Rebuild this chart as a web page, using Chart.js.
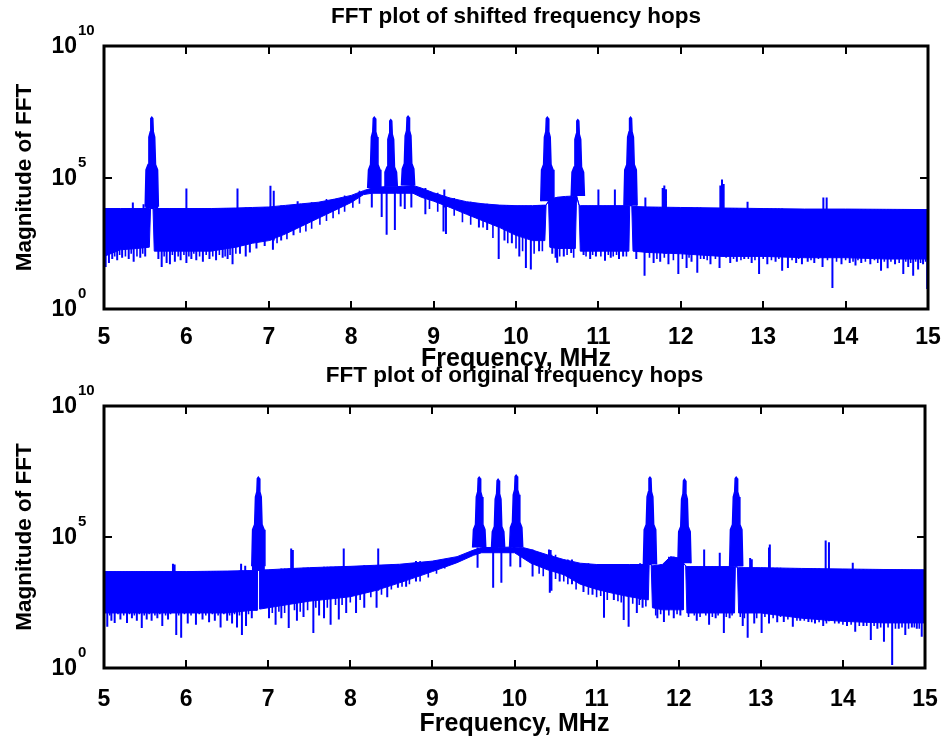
<!DOCTYPE html>
<html lang="en">
<head>
<meta charset="UTF-8" />
<title>FFT plots of frequency hops</title>
<script src="https://cdn.jsdelivr.net/npm/chart.js"></script>
<style>
  html, body { margin: 0; padding: 0; background: #fff; }
  body { width: 948px; height: 740px; position: relative; overflow: hidden; }
  .plot { position: absolute; left: 0; width: 948px; }
  #shifted { top: 0; height: 375px; }
  #original { top: 360px; height: 380px; }
</style>
</head>
<body>
<div class="plot" id="shifted"><canvas id="shiftedChart"></canvas></div>
<div class="plot" id="original"><canvas id="originalChart"></canvas></div>
<script>
// all magnitudes below are log10 of |FFT|, frequencies in MHz
const freqTicks = [5, 6, 7, 8, 9, 10, 11, 12, 13, 14, 15];
const magTicks = [0, 5, 10];

// ---- shifted hops ----
// noise floor band: upper and lower edge
const shiftBandF  = [5.00, 5.20, 5.40, 5.55, 5.565, 5.595, 5.61, 5.80, 6.00, 6.30, 6.60, 6.80, 7.00, 7.20, 7.40, 7.60, 7.80, 8.00, 8.15, 8.25, 8.40, 8.55, 8.75, 8.85, 9.00, 9.20, 9.40, 9.60, 9.80, 10.00, 10.20, 10.35, 10.365, 10.395, 10.41, 10.50, 10.60, 10.72, 10.735, 10.765, 10.78, 11.00, 11.20, 11.37, 11.38, 11.405, 11.42, 11.60, 12.00, 12.50, 13.00, 13.50, 14.00, 14.50, 15.00];
const shiftBandHi = [3.82, 3.82, 3.82, 3.82, 3.82, 3.82, 3.82, 3.82, 3.82, 3.82, 3.84, 3.86, 3.88, 3.94, 4.00, 4.06, 4.18, 4.32, 4.50, 4.60, 4.65, 4.65, 4.70, 4.60, 4.42, 4.22, 4.08, 4.00, 3.95, 3.93, 3.93, 3.95, 3.95, 4.10, 4.15, 4.25, 4.28, 4.30, 4.30, 3.95, 3.93, 3.93, 3.93, 3.93, 3.93, 3.93, 3.90, 3.88, 3.86, 3.84, 3.82, 3.80, 3.80, 3.79, 3.78];
const shiftBandLo = [2.00, 2.25, 2.30, 2.35, 3.82, 3.82, 2.20, 2.20, 2.20, 2.20, 2.35, 2.50, 2.60, 2.85, 3.15, 3.45, 3.75, 4.05, 4.35, 4.40, 4.40, 4.40, 4.40, 4.25, 4.10, 3.86, 3.60, 3.35, 3.10, 2.80, 2.60, 2.60, 3.95, 4.10, 2.35, 2.30, 2.30, 2.30, 4.30, 3.95, 2.20, 2.20, 2.20, 2.20, 3.93, 3.93, 2.20, 2.15, 2.10, 2.00, 2.00, 1.95, 1.95, 1.90, 1.90];
// long downward spikes
const shiftDipF = [5.00, 5.02, 5.06, 5.10, 5.16, 5.22, 5.30, 5.36, 5.44, 5.50, 5.66, 5.70, 5.76, 5.80, 5.86, 5.93, 6.00, 6.06, 6.12, 6.20, 6.28, 6.36, 6.44, 6.50, 6.56, 6.65, 6.72, 6.77, 6.85, 6.95, 7.05, 7.15, 7.30, 8.25, 8.37, 8.43, 8.53, 8.60, 8.65, 8.73, 8.90, 9.12, 9.15, 9.55, 9.65, 9.79, 9.86, 9.95, 10.04, 10.12, 10.18, 10.28, 10.44, 10.48, 10.50, 10.58, 10.67, 10.82, 10.90, 10.97, 11.08, 11.15, 11.25, 11.30, 11.46, 11.56, 11.67, 11.75, 11.85, 11.97, 12.07, 12.13, 12.20, 12.28, 12.36, 12.47, 12.60, 12.68, 12.77, 12.86, 12.95, 13.05, 13.15, 13.23, 13.30, 13.40, 13.47, 13.54, 13.62, 13.72, 13.84, 13.95, 14.05, 14.12, 14.19, 14.30, 14.43, 14.51, 14.60, 14.70, 14.76, 14.82, 14.88, 14.94, 14.99];
const shiftDipV = [1.20, 1.60, 1.75, 1.90, 1.85, 1.95, 1.90, 1.80, 1.95, 2.00, 1.90, 1.60, 1.75, 1.70, 1.80, 1.85, 1.75, 1.90, 1.85, 1.80, 1.90, 1.85, 1.95, 1.90, 1.70, 2.10, 2.00, 2.15, 2.30, 2.40, 2.25, 2.60, 2.80, 3.86, 3.50, 2.82, 3.00, 3.90, 3.80, 3.86, 3.60, 2.95, 2.85, 3.10, 3.00, 1.90, 2.60, 2.50, 2.00, 1.56, 1.50, 2.20, 2.10, 1.95, 1.76, 2.00, 2.13, 2.05, 1.90, 2.00, 1.83, 1.95, 1.90, 2.00, 1.90, 1.26, 1.75, 1.80, 1.70, 1.33, 1.56, 1.80, 1.38, 1.90, 1.70, 1.56, 1.75, 1.80, 1.90, 1.75, 1.33, 1.70, 1.80, 1.45, 1.56, 1.75, 1.70, 1.80, 1.75, 1.60, 0.80, 1.70, 1.75, 1.65, 1.75, 1.70, 1.45, 1.55, 1.70, 1.33, 1.60, 1.26, 1.50, 1.70, 0.76];
// short teeth along the lower edge of the floor
const shiftCombF = [5.04, 5.13, 5.19, 5.26, 5.33, 5.40, 5.47, 5.73, 5.83, 5.90, 5.97, 6.03, 6.09, 6.16, 6.24, 6.32, 6.40, 6.47, 6.53, 6.60, 7.10, 7.22, 7.38, 7.45, 7.52, 7.62, 7.70, 7.78, 7.85, 7.92, 8.02, 8.10, 8.95, 9.05, 9.25, 9.35, 9.45, 9.60, 9.72, 9.90, 10.00, 10.08, 10.22, 10.32, 10.53, 10.62, 10.70, 10.85, 10.93, 11.03, 11.12, 11.18, 11.22, 11.34, 11.62, 11.71, 11.80, 11.91, 12.02, 12.10, 12.24, 12.32, 12.42, 12.55, 12.64, 12.73, 12.82, 12.90, 13.00, 13.10, 13.19, 13.35, 13.43, 13.58, 13.67, 13.78, 13.89, 14.00, 14.09, 14.15, 14.24, 14.35, 14.39, 14.47, 14.55, 14.65, 14.73, 14.79, 14.85, 14.91, 14.97];
const shiftCombV = [2.05, 2.00, 2.05, 2.00, 2.10, 2.00, 2.10, 2.00, 2.05, 2.00, 2.05, 2.00, 2.10, 2.00, 2.05, 2.00, 2.05, 2.00, 2.05, 2.10, 2.50, 2.65, 2.90, 2.95, 3.05, 3.20, 3.35, 3.45, 3.60, 3.70, 3.85, 4.00, 3.80, 3.70, 3.55, 3.30, 3.20, 3.10, 2.70, 2.50, 2.30, 2.20, 2.10, 2.20, 2.00, 2.05, 1.95, 2.00, 2.05, 2.00, 2.05, 2.00, 2.05, 2.00, 1.95, 1.90, 1.95, 1.85, 1.90, 1.95, 1.90, 1.85, 1.90, 1.95, 1.90, 1.85, 1.90, 1.85, 1.90, 1.85, 1.90, 1.85, 1.90, 1.85, 1.90, 1.85, 1.80, 1.85, 1.80, 1.85, 1.80, 1.85, 1.75, 1.80, 1.80, 1.75, 1.80, 1.75, 1.80, 1.75, 1.80];
// small upward spurs
const shiftSpurF = [5.35, 5.48, 6.00, 6.62, 7.02, 7.06, 7.35, 9.13, 11.00, 11.20, 11.57, 11.78, 11.80, 11.82, 12.48, 12.50, 12.52, 12.81, 13.73, 13.77];
const shiftSpurV = [4.05, 3.98, 4.58, 4.58, 4.69, 4.50, 4.10, 4.54, 4.54, 4.54, 4.24, 4.60, 4.70, 4.55, 4.70, 4.92, 4.75, 4.08, 4.24, 4.24];
// hop carriers
const shiftPeakF = [5.58, 8.28, 8.48, 8.69, 10.38, 10.75, 11.39];
const shiftPeakV = [7.29, 7.29, 7.20, 7.33, 7.29, 7.20, 7.29];

// ---- original hops ----
const origBandF  = [5.00, 5.50, 6.00, 6.50, 6.80, 6.865, 6.87, 6.895, 6.90, 7.00, 7.30, 7.50, 7.80, 8.00, 8.30, 8.60, 9.00, 9.30, 9.50, 9.60, 9.80, 10.00, 10.10, 10.20, 10.40, 10.60, 10.80, 11.00, 11.20, 11.40, 11.63, 11.64, 11.665, 11.68, 11.80, 11.90, 12.00, 12.055, 12.06, 12.085, 12.10, 12.30, 12.68, 12.69, 12.715, 12.73, 13.00, 13.50, 14.00, 14.50, 15.00];
const origBandHi = [3.68, 3.68, 3.68, 3.70, 3.72, 3.72, 3.72, 3.74, 3.74, 3.75, 3.80, 3.83, 3.86, 3.88, 3.92, 3.96, 4.08, 4.25, 4.50, 4.60, 4.60, 4.62, 4.60, 4.52, 4.32, 4.14, 4.00, 3.95, 3.95, 3.95, 3.95, 3.95, 3.95, 3.90, 3.95, 4.25, 4.20, 4.00, 4.00, 3.90, 3.87, 3.87, 3.87, 3.87, 3.85, 3.83, 3.83, 3.80, 3.78, 3.76, 3.75];
const origBandLo = [2.10, 2.10, 2.10, 2.10, 2.20, 2.20, 3.72, 3.74, 2.25, 2.30, 2.45, 2.55, 2.65, 2.72, 2.95, 3.25, 3.68, 4.02, 4.30, 4.40, 4.40, 4.40, 4.20, 4.00, 3.75, 3.56, 3.20, 3.00, 2.85, 2.72, 2.60, 3.95, 3.95, 2.30, 2.22, 2.22, 2.22, 2.22, 4.00, 3.90, 2.10, 2.10, 2.10, 3.87, 3.85, 2.10, 2.10, 1.90, 1.78, 1.72, 1.72];
const origDipF = [5.00, 5.04, 5.09, 5.13, 5.20, 5.28, 5.34, 5.40, 5.46, 5.52, 5.58, 5.65, 5.71, 5.78, 5.88, 5.94, 6.02, 6.12, 6.20, 6.28, 6.35, 6.42, 6.50, 6.56, 6.62, 6.68, 6.73, 6.80, 7.01, 7.09, 7.16, 7.25, 7.35, 7.43, 7.55, 7.62, 7.68, 7.76, 7.86, 7.95, 8.07, 8.17, 8.32, 8.45, 8.58, 8.68, 8.80, 9.55, 9.74, 9.84, 9.95, 10.07, 10.22, 10.43, 10.45, 10.55, 10.70, 10.84, 10.95, 11.09, 11.21, 11.33, 11.39, 11.49, 11.56, 11.74, 11.82, 11.94, 12.02, 12.16, 12.22, 12.37, 12.45, 12.55, 12.62, 12.78, 12.84, 12.92, 13.01, 13.10, 13.20, 13.28, 13.39, 13.48, 13.58, 13.66, 13.76, 13.85, 13.95, 14.05, 14.15, 14.25, 14.34, 14.42, 14.50, 14.60, 14.68, 14.76, 14.84, 14.90, 14.96];
const origDipV = [1.60, 1.57, 1.80, 1.72, 1.85, 1.72, 1.90, 1.80, 1.53, 1.85, 1.80, 1.90, 1.60, 1.85, 1.26, 1.15, 1.70, 1.65, 1.85, 1.75, 1.80, 1.55, 1.80, 1.70, 1.55, 1.26, 1.60, 1.90, 1.90, 1.65, 1.90, 1.53, 1.80, 1.95, 1.34, 2.00, 1.90, 1.65, 1.85, 2.10, 2.10, 2.30, 2.30, 2.70, 3.06, 3.10, 3.30, 3.83, 3.06, 3.25, 3.87, 3.85, 3.49, 2.87, 2.95, 3.30, 3.20, 2.90, 2.80, 1.92, 2.60, 1.83, 1.57, 2.10, 2.30, 1.90, 1.76, 1.90, 2.00, 2.10, 1.80, 1.65, 1.90, 1.34, 1.90, 1.60, 1.15, 1.70, 1.34, 1.70, 1.75, 1.76, 1.57, 1.80, 1.76, 1.70, 1.60, 1.95, 1.70, 1.60, 1.38, 1.60, 1.07, 1.50, 1.00, 0.11, 1.50, 1.26, 1.55, 1.50, 1.19];
const origCombF = [5.07, 5.17, 5.24, 5.31, 5.37, 5.43, 5.49, 5.55, 5.62, 5.68, 5.75, 5.81, 5.91, 5.98, 6.06, 6.16, 6.24, 6.32, 6.39, 6.46, 6.53, 6.59, 6.65, 6.76, 7.05, 7.13, 7.20, 7.32, 7.39, 7.48, 7.58, 7.72, 7.82, 7.90, 8.00, 8.12, 8.25, 8.38, 8.50, 8.63, 8.72, 8.85, 8.95, 9.05, 9.15, 10.30, 10.35, 10.50, 10.60, 10.65, 10.75, 10.90, 11.00, 11.05, 11.13, 11.26, 11.30, 11.44, 11.52, 11.60, 11.72, 11.78, 11.88, 11.98, 12.12, 12.19, 12.26, 12.33, 12.41, 12.48, 12.58, 12.65, 12.75, 12.80, 12.95, 13.05, 13.15, 13.24, 13.33, 13.44, 13.53, 13.62, 13.71, 13.80, 13.90, 14.00, 14.10, 14.20, 14.29, 14.38, 14.46, 14.55, 14.64, 14.72, 14.80, 14.87, 14.93];
const origCombV = [2.00, 2.05, 2.00, 2.05, 2.00, 2.05, 2.00, 2.05, 2.00, 2.05, 2.00, 2.05, 2.00, 2.05, 2.00, 2.05, 2.00, 2.05, 2.00, 2.05, 2.00, 2.05, 2.00, 2.05, 2.10, 2.15, 2.10, 2.20, 2.15, 2.20, 2.30, 2.30, 2.40, 2.40, 2.50, 2.60, 2.70, 2.80, 3.00, 3.10, 3.20, 3.30, 3.45, 3.60, 3.80, 3.60, 3.50, 3.40, 3.30, 3.20, 3.00, 2.80, 2.70, 2.75, 2.60, 2.55, 2.50, 2.45, 2.40, 2.35, 2.00, 2.05, 2.00, 2.05, 1.95, 2.00, 1.95, 2.00, 1.95, 2.00, 1.95, 2.00, 1.95, 1.90, 1.90, 1.95, 1.90, 1.95, 1.85, 1.80, 1.80, 1.75, 1.75, 1.70, 1.70, 1.65, 1.65, 1.60, 1.60, 1.60, 1.55, 1.55, 1.50, 1.55, 1.50, 1.55, 1.50];
const origSpurF = [5.84, 5.86, 6.67, 6.72, 7.28, 7.30, 7.92, 8.34, 10.42, 10.44, 11.53, 12.31, 12.50, 12.87, 12.89, 13.10, 13.11, 13.79, 13.83, 14.12, 15.00];
const origSpurV = [3.98, 3.95, 3.98, 3.90, 4.56, 4.50, 4.56, 4.56, 4.52, 4.50, 4.00, 4.52, 4.40, 4.20, 4.15, 4.60, 4.71, 4.87, 4.80, 4.02, 4.25];
const origPeakF = [6.88, 9.57, 9.80, 10.02, 11.65, 12.07, 12.70];
const origPeakV = [7.28, 7.28, 7.20, 7.36, 7.28, 7.20, 7.28];

const BLUE = '#0000ff';
const FONT = '"Liberation Sans", Arial, Helvetica, sans-serif';
// carrier outline: offset in MHz, drop in decades below the top
const PEAK_SHAPE = [[-0.08, 3.4], [-0.07, 2.0], [-0.045, 1.8], [-0.035, 0.75], [-0.018, 0.55], [-0.012, 0.05], [0, 0], [0.012, 0.05], [0.018, 0.55], [0.035, 0.75], [0.045, 1.8], [0.07, 2.0], [0.08, 3.4]];

const pow = e => Math.pow(10, e);

function nearestIndex(list, f) {
  let best = 0;
  for (let i = 1; i < list.length; i++) {
    if (Math.abs(list[i] - f) < Math.abs(list[best] - f)) best = i;
  }
  return best;
}

// vertical strokes from each value back into the noise band
function strokes(freqs, vals, bandF, edge) {
  const pts = [];
  freqs.forEach((f, i) => {
    pts.push({ x: f, y: pow(vals[i]) });
    pts.push({ x: f, y: pow(edge[nearestIndex(bandF, f)]) });
    pts.push({ x: f, y: null });
  });
  return pts;
}

function strokeSet(data, width) {
  return { data, borderColor: BLUE, borderWidth: width, pointRadius: 0, fill: false, spanGaps: false };
}

function buildDatasets(s) {
  // floor outline: along the upper edge, then back along the lower edge
  const upper = s.bandF.map((f, i) => ({ x: f, y: pow(s.bandHi[i]) }));
  const lower = s.bandF.map((f, i) => ({ x: f, y: pow(s.bandLo[i]) })).reverse();
  const sets = [
    {
      data: upper.concat(lower),
      borderColor: BLUE, backgroundColor: BLUE, borderWidth: 1,
      pointRadius: 0, fill: 'shape'
    },
    strokeSet(strokes(s.dipF, s.dipV, s.bandF, s.bandHi), 2),
    strokeSet(strokes(s.combF, s.combV, s.bandF, s.bandHi), 1.6),
    strokeSet(strokes(s.spurF, s.spurV, s.bandF, s.bandLo), 2)
  ];
  s.peakF.forEach((f, i) => {
    const base = s.bandHi[nearestIndex(s.bandF, f)];
    const top = s.peakV[i];
    sets.push({
      data: PEAK_SHAPE.map(([dx, drop]) => ({ x: f + dx, y: pow(Math.max(base, top - drop)) })),
      borderColor: BLUE, backgroundColor: BLUE, borderWidth: 1.5,
      pointRadius: 0, fill: { value: pow(base) }
    });
  });
  return sets;
}

// box, inward ticks and the 10^n labels
const frameAndLabels = {
  id: 'frameAndLabels',
  afterDraw(chart) {
    const { ctx, chartArea: a, scales: { x, y } } = chart;
    ctx.save();
    ctx.strokeStyle = '#000';
    ctx.lineWidth = 3;
    ctx.strokeRect(a.left, a.top, a.right - a.left, a.bottom - a.top);
    ctx.lineWidth = 2;
    ctx.beginPath();
    freqTicks.forEach(f => {
      const px = Math.round(x.getPixelForValue(f));
      ctx.moveTo(px, a.bottom); ctx.lineTo(px, a.bottom - 8);
      ctx.moveTo(px, a.top); ctx.lineTo(px, a.top + 8);
    });
    magTicks.forEach(e => {
      const py = Math.round(y.getPixelForValue(pow(e)));
      ctx.moveTo(a.left, py); ctx.lineTo(a.left + 8, py);
      ctx.moveTo(a.right, py); ctx.lineTo(a.right - 8, py);
    });
    ctx.stroke();

    ctx.fillStyle = '#000';
    ctx.textBaseline = 'middle';
    magTicks.forEach(e => {
      const py = y.getPixelForValue(pow(e));
      ctx.font = 'bold 23px ' + FONT;
      ctx.textAlign = 'right';
      ctx.fillText('10', 77, py + 1);
      ctx.font = 'bold 15px ' + FONT;
      ctx.textAlign = 'left';
      ctx.fillText(String(e), 78, py - 15);
    });
    ctx.restore();
  }
};

function makeChart(id, titleText, s, lay) {
  return new Chart(document.getElementById(id), {
    type: 'line',
    data: { datasets: buildDatasets(s) },
    plugins: [frameAndLabels],
    options: {
      responsive: true,
      maintainAspectRatio: false,
      animation: false,
      events: [],
      layout: { padding: { left: 0, right: 17, top: 0, bottom: 0 } },
      elements: { line: { tension: 0 } },
      plugins: {
        legend: { display: false },
        tooltip: { enabled: false },
        title: {
          display: true,
          text: titleText,
          fullSize: false,
          color: '#000',
          font: { family: FONT, size: 22.5, weight: 'bold', lineHeight: 1.2 },
          padding: { top: lay.titleTop, bottom: lay.titleBottom }
        }
      },
      scales: {
        x: {
          type: 'linear',
          min: 5,
          max: 15,
          afterBuildTicks: sc => { sc.ticks = freqTicks.map(v => ({ value: v })); },
          afterFit: sc => { sc.height = lay.xHeight; },
          grid: { display: false },
          border: { display: false },
          ticks: {
            color: '#000',
            maxRotation: 0,
            autoSkip: false,
            padding: lay.tickPad,
            font: { family: FONT, size: 23, weight: 'bold', lineHeight: 1.2 },
            callback: v => String(v)
          },
          title: {
            display: true,
            text: 'Frequency, MHz',
            color: '#000',
            font: { family: FONT, size: 25, weight: 'bold', lineHeight: 1.2 },
            padding: { top: 0, bottom: lay.xTitleBottom }
          }
        },
        y: {
          type: 'logarithmic',
          min: 1,
          max: 1e10,
          afterFit: sc => { sc.width = 104; },
          grid: { display: false },
          border: { display: false },
          ticks: { display: false },
          title: {
            display: true,
            text: 'Magnitude of FFT',
            color: '#000',
            font: { family: FONT, size: 22.5, weight: 'bold', lineHeight: 1.2 },
            padding: { top: 11.5, bottom: 0 }
          }
        }
      }
    }
  });
}

makeChart('shiftedChart', 'FFT plot of shifted frequency hops', {
  bandF: shiftBandF, bandHi: shiftBandHi, bandLo: shiftBandLo,
  dipF: shiftDipF, dipV: shiftDipV,
  combF: shiftCombF, combV: shiftCombV,
  spurF: shiftSpurF, spurV: shiftSpurV,
  peakF: shiftPeakF, peakV: shiftPeakV
}, { titleTop: 3.5, titleBottom: 15.5, xHeight: 66, tickPad: 7.2, xTitleBottom: 0.7 });

makeChart('originalChart', 'FFT plot of original frequency hops', {
  bandF: origBandF, bandHi: origBandHi, bandLo: origBandLo,
  dipF: origDipF, dipV: origDipV,
  combF: origCombF, combV: origCombV,
  spurF: origSpurF, spurV: origSpurV,
  peakF: origPeakF, peakV: origPeakV
}, { titleTop: 2.5, titleBottom: 16.5, xHeight: 72, tickPad: 10.2, xTitleBottom: 1 });
</script>
</body>
</html>
